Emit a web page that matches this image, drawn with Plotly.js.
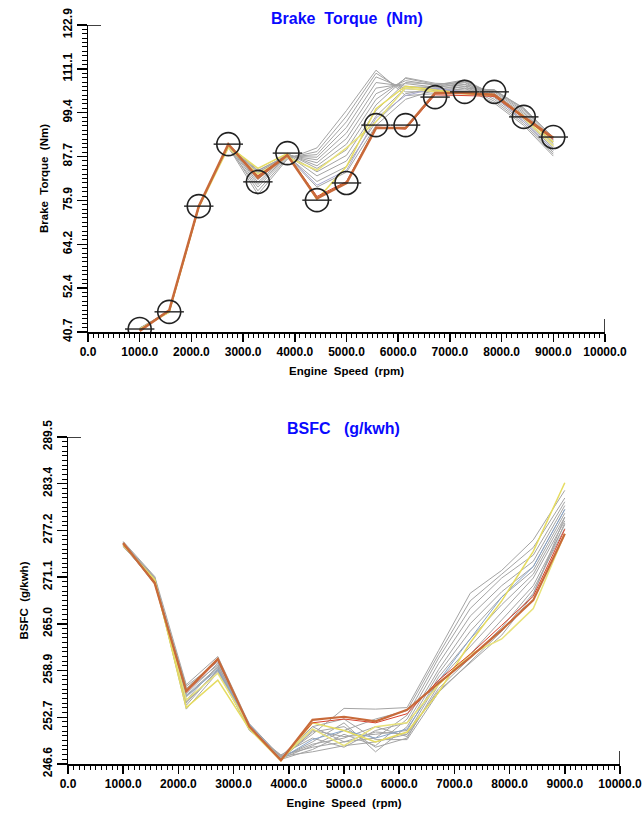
<!DOCTYPE html>
<html>
<head>
<meta charset="utf-8">
<script src="https://cdn.plot.ly/plotly-3.0.1.min.js"></script>
<style>html,body{margin:0;padding:0;background:#fff;}#chart{width:642px;height:816px;}</style>
</head>
<body>
<div id="chart"></div>
<script>
// ---------- shared x values (engine speed, rpm) ----------
const rpm = [1000,1571,2143,2714,3286,3857,4429,5000,5571,6143,6714,7286,7857,8429,9000];

// ---------- Brake torque (Nm) ----------
const torqueMeasured = [41.5,46.1,74.4,91.0,80.9,88.6,76.0,80.6,96.1,96.1,103.6,105.0,105.0,98.3,92.9];
const torqueMain     = [41.0,46.5,74.4,91.0,82.0,88.0,76.5,80.6,95.3,95.3,104.7,104.7,104.2,98.3,92.7];
const torqueRed      = [41.2,46.3,74.2,90.8,82.5,88.2,77.0,81.0,95.6,95.0,104.2,104.0,103.8,98.0,92.3];
const torqueYellow1  = [41.2,46.3,74.2,90.5,84.5,88.5,76.2,85.0,100.5,106.5,105.5,104.5,104.0,98.5,91.5];
const torqueYellow2  = [41.5,46.0,74.0,90.0,83.0,87.5,84.0,90.0,97.0,106.0,105.0,104.8,104.2,98.0,90.5];
const torquePurple   = [41.5,46.3,74.5,90.6,81.8,88.0,80.0,84.0,98.0,104.0,106.0,105.0,104.0,97.0,89.5];
const torqueGray1  = [41.8,46.0,74.0,90.2,77.5,87.0,90.0,100.0,110.8,104.0,104.5,106.0,102.0,96.0,87.8];
const torqueGray2  = [41.6,46.2,74.3,90.5,78.5,87.3,89.0,98.5,110.0,105.0,105.0,106.5,102.5,96.5,88.3];
const torqueGray3  = [41.5,46.3,74.5,90.0,79.5,87.6,88.2,97.0,109.0,105.8,105.5,107.0,103.0,97.0,88.8];
const torqueGray4  = [41.4,46.0,74.2,90.4,80.2,87.8,87.5,95.5,107.5,106.5,106.0,107.5,103.5,97.5,89.3];
const torqueGray5  = [41.7,46.4,74.1,90.7,80.8,88.0,86.8,94.0,106.0,107.2,106.3,108.0,103.8,98.0,89.8];
const torqueGray6  = [41.3,46.1,74.6,90.1,81.5,88.2,86.0,92.5,104.5,108.0,106.8,108.2,104.2,98.5,90.3];
const torqueGray7  = [41.6,46.3,74.0,90.6,82.0,88.4,85.2,91.0,103.0,108.6,107.0,107.6,104.6,99.0,90.8];
const torqueGray8  = [41.5,46.2,74.4,90.3,82.6,88.5,84.5,89.5,101.5,108.8,107.3,107.0,105.0,99.4,91.2];
const torqueGray9  = [41.4,46.5,74.3,90.8,83.2,88.3,83.6,88.0,100.0,107.5,107.0,106.5,105.3,99.8,91.6];
const torqueGray10 = [41.6,46.0,74.5,90.5,83.8,88.1,82.5,86.5,98.5,106.0,106.5,106.0,105.5,100.2,92.0];
const torqueGray11 = [41.5,46.4,74.2,90.9,84.0,87.9,81.0,85.0,97.0,104.5,106.0,105.5,105.6,100.5,92.4];
const torqueGray12 = [41.7,46.2,74.4,90.4,83.5,87.7,79.5,83.5,96.0,103.0,105.5,105.2,105.4,100.7,92.8];
const torqueGrays = [torqueGray1,torqueGray2,torqueGray3,torqueGray4,torqueGray5,torqueGray6,
                     torqueGray7,torqueGray8,torqueGray9,torqueGray10,torqueGray11,torqueGray12];
const torqueRange = [40.7, 122.9];
const torqueTickLabelFix = {'111.2': '111.1'};

// ---------- BSFC (g/kwh) ----------
const bsfcMain    = [275.6,270.3,256.2,260.4,251.5,247.1,252.4,252.8,252.2,253.7,257.2,260.6,264.2,268.1,276.8];
const bsfcRed     = [275.4,270.5,256.0,260.2,251.6,247.2,252.0,252.5,252.0,253.2,257.6,261.0,264.8,268.6,277.4];
const bsfcYellow1 = [275.3,270.8,254.0,257.6,251.2,247.0,252.0,251.0,249.5,250.8,256.0,262.5,268.0,274.5,283.5];
const bsfcYellow2 = [275.5,270.5,255.0,258.5,251.5,247.2,251.2,249.0,251.5,252.0,257.0,261.0,263.0,267.0,276.8];
const bsfcBlue    = [275.4,270.6,255.5,259.0,251.8,247.3,249.8,251.0,250.0,251.2,257.5,263.0,268.5,272.5,280.0];
const bsfcGray1  = [275.8,271.2,257.0,260.7,251.8,247.5,250.5,253.9,253.8,254.0,261.5,269.0,272.0,276.0,282.5];
const bsfcGray2  = [275.5,270.8,256.5,260.2,251.4,247.3,249.0,251.0,252.5,253.6,261.0,268.0,271.5,275.0,281.5];
const bsfcGray3  = [275.2,270.4,255.8,259.8,251.2,247.6,251.5,249.5,250.0,253.0,260.5,267.0,271.0,274.0,281.0];
const bsfcGray4  = [275.6,271.0,255.0,259.5,251.6,247.2,248.5,250.5,249.0,252.5,259.8,266.0,270.0,273.2,280.5];
const bsfcGray5  = [275.3,270.6,254.3,259.0,251.0,247.8,250.0,248.8,251.0,252.0,259.0,265.0,269.2,272.5,280.0];
const bsfcGray6  = [275.7,270.9,253.8,258.6,251.3,247.4,249.5,252.0,248.2,251.5,258.5,264.0,268.5,272.0,279.5];
const bsfcGray7  = [275.4,270.2,256.8,260.0,251.7,247.1,251.0,250.2,250.5,251.0,258.0,263.0,267.5,271.5,279.0];
const bsfcGray8  = [275.1,270.7,255.4,259.2,251.1,247.6,248.2,249.0,249.5,250.5,257.5,262.0,266.5,271.0,278.5];
const bsfcGray9  = [275.6,271.1,254.8,258.8,251.5,247.3,250.8,251.5,248.8,250.0,257.0,261.0,265.5,270.0,278.0];
const bsfcGray10 = [275.3,270.5,256.2,259.6,251.9,247.5,249.2,250.0,251.5,250.2,256.5,260.5,264.5,269.5,277.5];
const bsfcGray11 = [275.5,270.3,255.6,259.3,251.4,247.2,251.5,252.5,249.8,249.8,256.0,260.0,264.0,269.0,278.2];
const bsfcGray12 = [275.2,270.8,254.6,258.9,251.2,247.7,248.8,249.5,250.8,250.5,256.2,259.8,263.5,268.8,279.0];
const bsfcGrays = [bsfcGray1,bsfcGray2,bsfcGray3,bsfcGray4,bsfcGray5,bsfcGray6,
                   bsfcGray7,bsfcGray8,bsfcGray9,bsfcGray10,bsfcGray11,bsfcGray12];
const bsfcRange = [246.6, 289.5];

const xRange = [0, 10000];

// ---------- traces ----------
const FONT = '"Liberation Sans Narrow", "Liberation Sans", Arial, sans-serif';
const traces = [];
function line(y, color, width, xa, ya) {
  traces.push({x: rpm, y: y, type: 'scatter', mode: 'lines', xaxis: xa, yaxis: ya,
    line: {color: color, width: width}, hoverinfo: 'skip'});
}
torqueGrays.forEach(s => line(s, '#a4a4a4', 1, 'x', 'y'));
line(torquePurple, '#a8a8d0', 1, 'x', 'y');
line(torqueYellow2, '#e8e27a', 1.5, 'x', 'y');
line(torqueYellow1, '#e6dc60', 1.5, 'x', 'y');
line(torqueRed, '#d8402a', 1, 'x', 'y');
line(torqueMain, '#c86a3a', 2.5, 'x', 'y');
traces.push({x: rpm, y: torqueMeasured, type: 'scatter', mode: 'markers', xaxis: 'x', yaxis: 'y',
  marker: {symbol: 'circle-open', size: 23, color: '#222', line: {width: 1.6, color: '#222'}}, hoverinfo: 'skip'});
traces.push({x: rpm, y: torqueMeasured, type: 'scatter', mode: 'markers', xaxis: 'x', yaxis: 'y',
  marker: {symbol: 'line-ew-open', size: 21, color: '#222', line: {width: 1.4, color: '#222'}}, hoverinfo: 'skip'});

bsfcGrays.forEach(s => line(s, '#a4a4a4', 1, 'x2', 'y2'));
line(bsfcBlue, '#88a4c8', 1, 'x2', 'y2');
line(bsfcYellow2, '#e8e27a', 1.5, 'x2', 'y2');
line(bsfcYellow1, '#e6dc60', 1.5, 'x2', 'y2');
line(bsfcRed, '#d8402a', 1, 'x2', 'y2');
line(bsfcMain, '#c86a3a', 2.2, 'x2', 'y2');

// ---------- axes ----------
const tickFont = {family: FONT, size: 12, color: '#000', weight: 'bold'};
const titleFont = {family: FONT, size: 11.5, color: '#000', weight: 'bold'};
function xAxis(domain, anchor) {
  return {domain: domain, anchor: anchor, range: xRange, showgrid: false, zeroline: false,
    showline: true, linecolor: '#000', linewidth: 1.5, ticks: 'outside', ticklen: 8, tickwidth: 1.5,
    tickcolor: '#000', tickmode: 'linear', tick0: 0, dtick: 1000, tickformat: '.1f', tickfont: tickFont,
    ticklabeloverflow: 'allow',
    minor: {ticks: 'outside', ticklen: 4, tickwidth: 1, tickcolor: '#000', tick0: 0, dtick: 100},
    title: {text: 'Engine\u00a0 Speed\u00a0 (rpm)', font: titleFont, standoff: 9}, fixedrange: true};
}
function yAxis(domain, anchor, range, title, alias) {
  const step = (range[1] - range[0]) / 7;
  return {domain: domain, anchor: anchor, range: range, showgrid: false,
    zeroline: false, showline: true, linecolor: '#000', linewidth: 1.5, ticks: 'outside', ticklen: 10,
    tickwidth: 1.5, tickcolor: '#000', tickmode: 'linear', tick0: range[0], dtick: step,
    tickformat: '.1f', labelalias: alias || {}, tickangle: -90, tickfont: tickFont,
    ticklabeloverflow: 'allow',
    minor: {ticks: 'outside', ticklen: 5, tickwidth: 1, tickcolor: '#000', tick0: range[0], dtick: step / 10},
    title: {text: title, font: titleFont, standoff: 9}, fixedrange: true};
}

const endTick = (xref, yref, xv, yv, horiz) => horiz
  ? {type: 'line', xref: xref, yref: yref, xsizemode: 'pixel', xanchor: xv, x0: -14, x1: 13, y0: yv, y1: yv,
     line: {color: '#000', width: 1.5}}
  : {type: 'line', xref: xref, yref: yref, ysizemode: 'pixel', yanchor: yv, y0: -8, y1: 13, x0: xv, x1: xv,
     line: {color: '#000', width: 1.5}};

const layout = {
  width: 642, height: 816, margin: {l: 0, r: 0, t: 0, b: 0},
  paper_bgcolor: '#fff', plot_bgcolor: '#fff', showlegend: false,
  font: {family: FONT, color: '#000'},
  xaxis: xAxis([88/642, 605/642], 'y'),
  yaxis: yAxis([1 - 332/816, 1 - 25/816], 'x', torqueRange, 'Brake\u00a0 Torque\u00a0 (Nm)', torqueTickLabelFix),
  xaxis2: xAxis([68/642, 620/642], 'y2'),
  yaxis2: yAxis([1 - 764/816, 1 - 437/816], 'x2', bsfcRange, 'BSFC\u00a0 (g/kwh)'),
  annotations: [
    {text: 'Brake\u00a0 Torque\u00a0 (Nm)', xref: 'paper', yref: 'paper', x: 347/642, y: 1 - 18/816,
     yanchor: 'middle', showarrow: false, font: {family: FONT, size: 16, color: '#0a0aff', weight: 'bold'}},
    {text: 'BSFC\u00a0 \u00a0(g/kwh)', xref: 'paper', yref: 'paper', x: 343/642, y: 1 - 428/816,
     yanchor: 'middle', showarrow: false, font: {family: FONT, size: 16, color: '#0a0aff', weight: 'bold'}}
  ],
  shapes: [
    endTick('x', 'y', 0, torqueRange[1], true),
    endTick('x', 'y', 10000, torqueRange[0], false),
    endTick('x2', 'y2', 0, bsfcRange[1], true),
    endTick('x2', 'y2', 10000, bsfcRange[0], false)
  ]
};

Plotly.newPlot('chart', traces, layout, {staticPlot: true, displayModeBar: false});
</script>
</body>
</html>
